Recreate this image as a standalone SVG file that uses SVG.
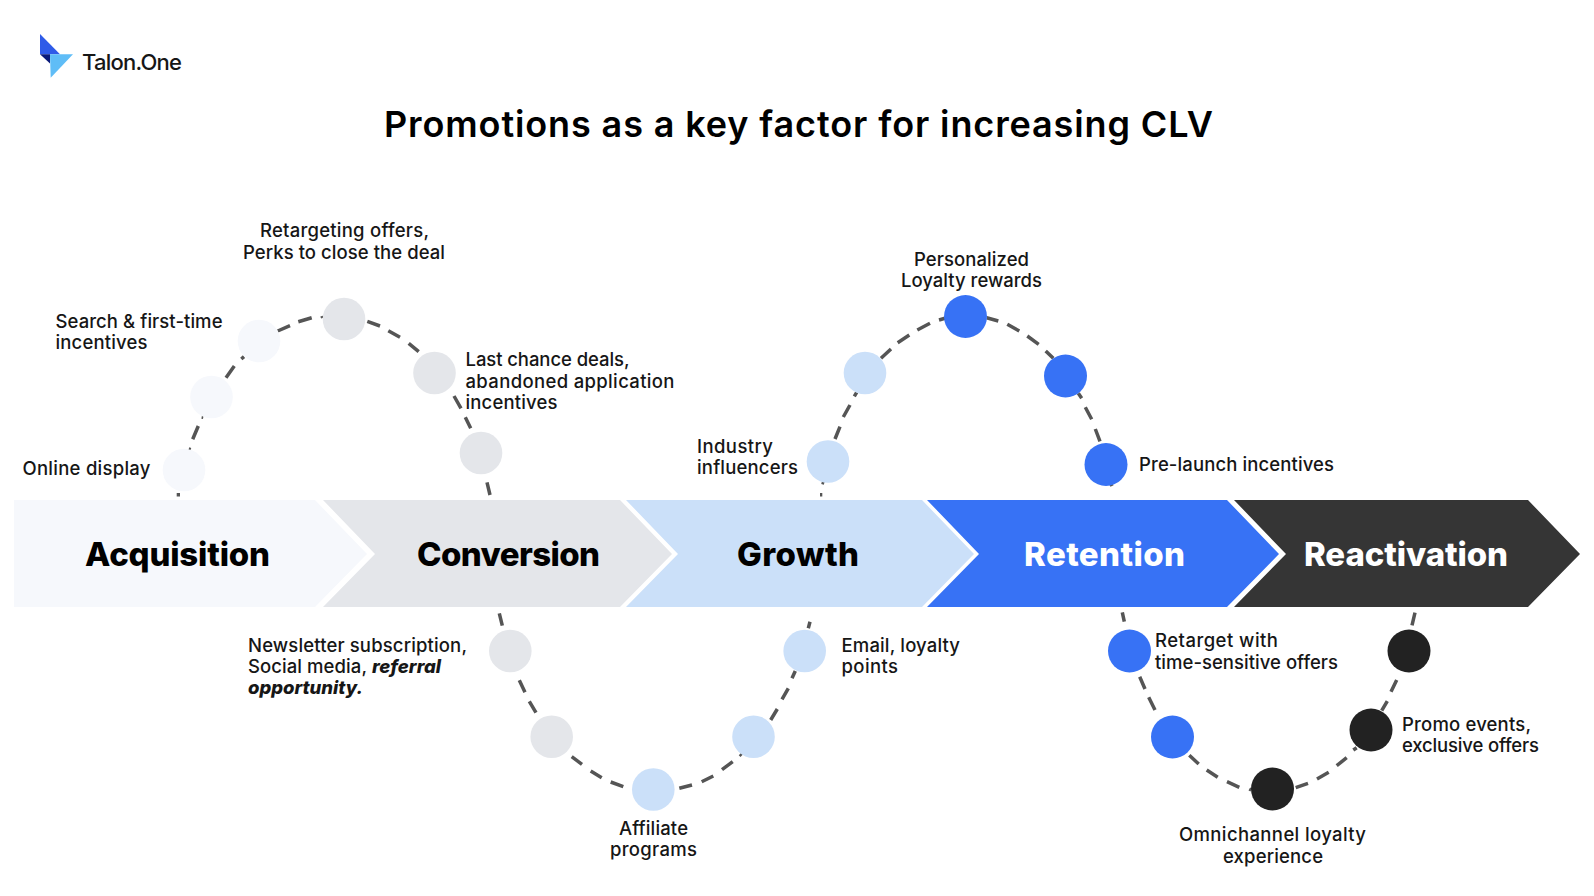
<svg xmlns="http://www.w3.org/2000/svg" width="1594" height="896" viewBox="0 0 1594 896">
<style>
text{font-family:Inter,"Liberation Sans",sans-serif;fill:#161616}
.l{font-size:18.5px;font-weight:500}
.bi{font-size:18.5px;font-weight:800;font-style:italic}
.t{font-size:36px;font-weight:600;fill:#000}
.s{font-size:33px;font-weight:800;fill:#000}
.w{fill:#fff}
.dash{fill:none;stroke:#555;stroke-width:3.5}
.c1{fill:#f6f8fc}.c2{fill:#e4e6ea}.c3{fill:#cbe0f9}.c4{fill:#3772f5}.c5{fill:#222}
</style>
<rect width="1594" height="896" fill="#fff"/>
<g id="logo">
<polygon points="40,34 60,54.3 40,54.3" fill="#2f5be8"/>
<polygon points="40,54.3 50,54.3 50,63.5" fill="#0a1a7a"/>
<polygon points="50,54.3 73,54.3 50.7,77.7" fill="#5fbdf7"/>
<text x="82" y="70" font-size="22" font-weight="500" fill="#222" textLength="100" lengthAdjust="spacing">Talon.One</text>
</g>
<text id="title" class="t" x="384" y="137" textLength="829" lengthAdjust="spacing">Promotions as a key factor for increasing CLV</text>
<g id="stages">
<g id="stage-acquisition"><polygon class="c1" points="14,500 315,500 367,554 315,607 14,607"/><text class="s" x="85" y="565.5" textLength="185" lengthAdjust="spacing">Acquisition</text></g>
<g id="stage-conversion"><polygon class="c2" points="323,500 620,500 672,554 620,607 323,607 375,554"/><text class="s" x="417" y="565.5" textLength="183" lengthAdjust="spacing">Conversion</text></g>
<g id="stage-growth"><polygon class="c3" points="626,500 922,500 974,554 922,607 626,607 678,554"/><text class="s" x="737" y="565.5" textLength="122" lengthAdjust="spacing">Growth</text></g>
<g id="stage-retention"><polygon class="c4" points="927,500 1227,500 1279,554 1227,607 927,607 979,554"/><text class="s w" x="1024" y="565.5" textLength="161" lengthAdjust="spacing">Retention</text></g>
<g id="stage-reactivation"><polygon fill="#353535" points="1234,500 1528,500 1580,554 1528,607 1234,607 1286,554"/><text class="s w" x="1304" y="565.5" textLength="204" lengthAdjust="spacing">Reactivation</text></g>
</g>
<g id="connectors" class="dash">
<path d="M176.7 494.7L180 494.7M188.7 449L190.7 449.7M192.7 439.3L198.3 426M201.7 417L203.3 417.3M226 377.7L234.3 366M241.3 359L244 356.7M277.7 331L290 325.7M298.3 321.7L311.7 317.7M322 316L322.7 318M367.3 321.3L380 326M388.3 330.7L400 337.3M408.7 343.3L418.7 351.7M454 396L461 408.3M465.3 417.3L470.7 428.3M487 482.3L490 495"/>
<path d="M499.3 613.3L502.3 625.7M519.3 680.3L525 692.3M529.3 701.3L536 712.7M571.7 756.7L582 764.3M590.7 771L601.7 777.7M610.7 782L623.3 786.7M679.3 788.3L692 785M701.7 781.7L713.3 776M722 769.7L732.7 761.7M740 754L741.7 755.7M770.7 720L777.3 709M782 699.3L788.3 688.3M792 678.3L795.3 671M808.3 628.3L810 621.7"/>
<path d="M820 494.7L822.3 494.7M821.7 482.3L824.3 483M835 439L840 426.7M843.3 417L850 405M854.3 396.3L856.7 392.3M881 358.3L891 349M897.7 342.7L909.3 335M917.3 330L930 323.3M939 320L945 318.3M986.7 317.7L998.3 321M1007.3 324.3L1019.3 331M1027.3 336L1038.7 344.3M1045.7 351L1053.3 358.3M1078.3 393.3L1081.7 398.3M1085.3 407.3L1091.7 419.3M1095.3 429L1100 441.3M1111 484L1112 486"/>
<path d="M1122.3 612.3L1124.3 621.7M1139.7 676.7L1145 689M1148.7 697.3L1155 710M1189.3 755.3L1198.7 764M1206.7 770L1217.7 777.3M1227 781.7L1239.3 787.3M1249.3 789L1251.3 790M1295.7 787.7L1308 783.3M1317 779L1328.7 772.3M1336.7 765.7L1346.7 757.7M1353.3 750L1356.7 747.7M1381.7 710.7L1387.3 701M1391 691.7L1396.7 680M1412 625.3L1415 612.7"/>
</g>
<g id="node-online-display"><circle class="c1" cx="184" cy="470" r="21.3"/><text class="l" x="22.5" y="475" textLength="128" lengthAdjust="spacing">Online display</text></g>
<g id="node-a2"><circle class="c1" cx="211.5" cy="397" r="21.3"/></g>
<g id="node-search"><circle class="c1" cx="259" cy="341" r="21.3"/><text class="l" x="55.5" y="328" textLength="167" lengthAdjust="spacing">Search &amp; first-time</text><text class="l" x="55.5" y="349" textLength="92" lengthAdjust="spacing">incentives</text></g>
<g id="node-retargeting"><circle class="c2" cx="344" cy="319" r="21.3"/><text class="l" x="260" y="237" textLength="169" lengthAdjust="spacing">Retargeting offers,</text><text class="l" x="243" y="259" textLength="202" lengthAdjust="spacing">Perks to close the deal</text></g>
<g id="node-last-chance"><circle class="c2" cx="434.5" cy="373" r="21.3"/><text class="l" x="465.5" y="366" textLength="164" lengthAdjust="spacing">Last chance deals,</text><text class="l" x="465.5" y="388" textLength="209" lengthAdjust="spacing">abandoned application</text><text class="l" x="465.5" y="409" textLength="92" lengthAdjust="spacing">incentives</text></g>
<g id="node-c2"><circle class="c2" cx="481" cy="453" r="21.3"/></g>
<g id="node-newsletter"><circle class="c2" cx="510.3" cy="651" r="21.3"/><text class="l" x="248" y="652" textLength="219" lengthAdjust="spacing">Newsletter subscription,</text><text class="l" x="248" y="673" textLength="119" lengthAdjust="spacing">Social media,</text><text class="bi" x="372" y="673" textLength="69" lengthAdjust="spacing">referral</text><text class="bi" x="248" y="694" textLength="115" lengthAdjust="spacing">opportunity.</text></g>
<g id="node-c3"><circle class="c2" cx="551.7" cy="736.7" r="21.3"/></g>
<g id="node-affiliate"><circle class="c3" cx="653.3" cy="789.5" r="21.3"/><text class="l" x="619" y="835" textLength="69" lengthAdjust="spacing">Affiliate</text><text class="l" x="610" y="856" textLength="87" lengthAdjust="spacing">programs</text></g>
<g id="node-g2"><circle class="c3" cx="753.5" cy="736.7" r="21.3"/></g>
<g id="node-email"><circle class="c3" cx="804.7" cy="651" r="21.3"/><text class="l" x="841.5" y="652" textLength="118.5" lengthAdjust="spacing">Email, loyalty</text><text class="l" x="841.5" y="673" textLength="56.5" lengthAdjust="spacing">points</text></g>
<g id="node-influencers"><circle class="c3" cx="828" cy="461.5" r="21.3"/><text class="l" x="697" y="453" textLength="76" lengthAdjust="spacing">Industry</text><text class="l" x="697" y="474" textLength="101" lengthAdjust="spacing">influencers</text></g>
<g id="node-g3"><circle class="c3" cx="865" cy="373" r="21.3"/></g>
<g id="node-personalized"><circle class="c4" cx="965.5" cy="316.5" r="21.5"/><text class="l" x="914" y="266" textLength="115" lengthAdjust="spacing">Personalized</text><text class="l" x="901" y="287" textLength="141" lengthAdjust="spacing">Loyalty rewards</text></g>
<g id="node-r2"><circle class="c4" cx="1065.5" cy="376" r="21.5"/></g>
<g id="node-prelaunch"><circle class="c4" cx="1106" cy="464.5" r="21.5"/><text class="l" x="1139" y="471" textLength="195" lengthAdjust="spacing">Pre-launch incentives</text></g>
<g id="node-retarget"><circle class="c4" cx="1129.5" cy="651" r="21.5"/><text class="l" x="1155" y="647" textLength="123" lengthAdjust="spacing">Retarget with</text><text class="l" x="1155" y="669" textLength="183" lengthAdjust="spacing">time-sensitive offers</text></g>
<g id="node-r3"><circle class="c4" cx="1172.5" cy="737" r="21.5"/></g>
<g id="node-omnichannel"><circle class="c5" cx="1272.5" cy="789" r="21.5"/><text class="l" x="1179" y="841" textLength="187" lengthAdjust="spacing">Omnichannel loyalty</text><text class="l" x="1223" y="863" textLength="100" lengthAdjust="spacing">experience</text></g>
<g id="node-promo"><circle class="c5" cx="1371" cy="730" r="21.5"/><text class="l" x="1402" y="731" textLength="129" lengthAdjust="spacing">Promo events,</text><text class="l" x="1402" y="752" textLength="137" lengthAdjust="spacing">exclusive offers</text></g>
<g id="node-x2"><circle class="c5" cx="1409" cy="651" r="21.5"/></g>
</svg>
